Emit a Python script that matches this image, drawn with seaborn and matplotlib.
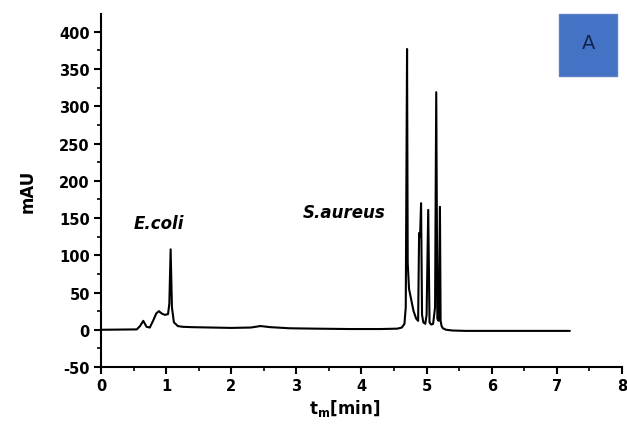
import numpy as np
import pandas as pd
import matplotlib
matplotlib.use("Agg")
import matplotlib.pyplot as plt
import seaborn as sns
from matplotlib.patches import Rectangle
from matplotlib.ticker import MultipleLocator

# chromatogram: retention time (min) and signal (mAU)
time_min = [0.0, 0.55, 0.60, 0.65, 0.70, 0.75, 0.80, 0.85, 0.89, 0.93, 0.98,
            1.03, 1.05, 1.07, 1.09, 1.12, 1.18, 1.25, 1.4, 1.7, 2.0, 2.3,
            2.45, 2.6, 2.9, 3.3, 3.8, 4.3, 4.55, 4.62, 4.66, 4.68, 4.70,
            4.71, 4.73, 4.76, 4.80, 4.84, 4.87, 4.885, 4.90, 4.915, 4.93,
            4.95, 4.98, 5.00, 5.025, 5.045, 5.07, 5.10, 5.13, 5.148, 5.165,
            5.185, 5.205, 5.215, 5.23, 5.25, 5.30, 5.4, 5.6, 6.0, 6.5, 7.0, 7.2]
signal_mau = [0.0, 0.5, 5, 12, 4, 3, 12, 22, 25, 22, 20,
              21, 35, 108, 30, 10, 5, 4, 3.5, 3, 2.5, 3,
              5, 3.5, 2, 1.5, 1, 1, 1.5, 3, 8, 30, 377,
              90, 55, 42, 25, 15, 12, 130, 125, 170, 20,
              10, 8, 20, 161, 10, 7, 8, 30, 319, 15,
              12, 165, 12, 5, 2, 0, -1, -1.5, -1.5, -1.5, -1.5, -1.5]

peak_labels = ["E.coli", "S.aureus"]
label_x = [0.5, 3.1]
label_y = [143, 158]

sns.set_style("ticks")
plt.rcParams["font.family"] = ["DejaVu Sans"]
plt.rcParams["axes.unicode_minus"] = False
plt.rcParams["mathtext.default"] = "bf"
for key in ["text.color", "axes.labelcolor", "xtick.color", "ytick.color",
            "axes.edgecolor"]:
    plt.rcParams[key] = "black"

df = pd.DataFrame({"t": time_min, "mAU": signal_mau})

fig = plt.figure(figsize=(6.27, 4.35), dpi=100)
ax = fig.add_axes([0.161, 0.154, 0.831, 0.8115])

sns.lineplot(data=df, x="t", y="mAU", color="black", linewidth=1.5,
             estimator=None, ax=ax)

ax.set_xlim(0, 8)
ax.set_ylim(-50, 424)
ax.xaxis.set_major_locator(MultipleLocator(1))
ax.xaxis.set_minor_locator(MultipleLocator(0.5))
ax.yaxis.set_major_locator(MultipleLocator(50))
ax.yaxis.set_minor_locator(MultipleLocator(25))
ax.set_yticks(np.arange(-50, 401, 50))
ax.tick_params(which="major", direction="out", length=5, width=1.5,
               labelsize=10.5, pad=3)
ax.tick_params(which="minor", direction="out", length=3, width=1.2)
for lab in ax.get_xticklabels() + ax.get_yticklabels():
    lab.set_fontweight("bold")

sns.despine(ax=ax)
for s in ["left", "bottom"]:
    ax.spines[s].set_linewidth(1.5)

ax.set_ylabel("mAU", fontsize=12, fontweight="bold")
ax.set_xlabel("t$_m$[min]", fontsize=12, fontweight="bold")
ax.yaxis.set_label_coords(-0.123, 0.5)
ax.xaxis.set_label_coords(0.468, -0.085)

for name, x, y in zip(peak_labels, label_x, label_y):
    ax.text(x, y, name, fontsize=12, fontweight="bold", fontstyle="italic",
            ha="left", va="center")

# panel tag box
fig.patches.append(Rectangle((0.892, 0.823), 0.092, 0.1425,
                             transform=fig.transFigure, facecolor="#4472C4",
                             edgecolor="#5b7fc4", linewidth=1))
fig.text(0.938, 0.901, "A", fontsize=14, color="#14244f", ha="center", va="center")

fig.savefig("out.png", dpi=100)
